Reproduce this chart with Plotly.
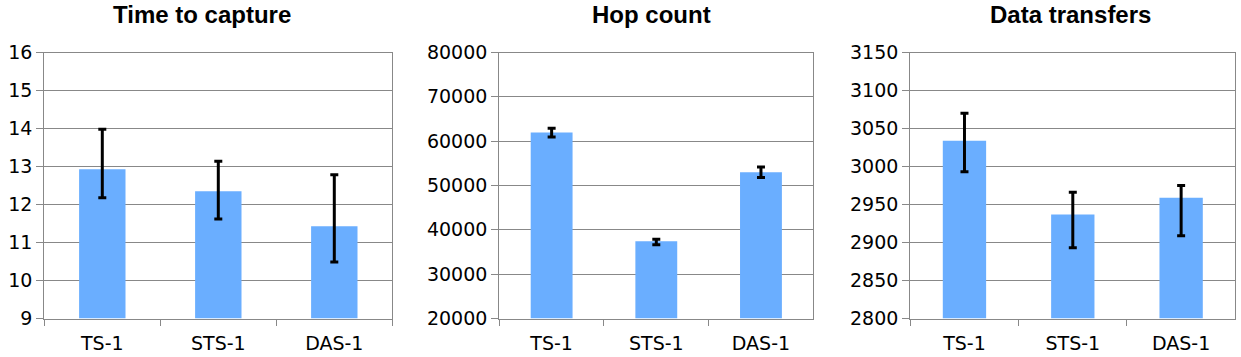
import plotly.graph_objects as go

categories = ["TS-1", "STS-1", "DAS-1"]

# time to capture
ttc_values = [12.93, 12.35, 11.43]
ttc_err_plus = [1.05, 0.79, 1.35]
ttc_err_minus = [0.75, 0.73, 0.94]

# hop count
hop_values = [61950, 37450, 53000]
hop_err_plus = [950, 450, 1150]
hop_err_minus = [1000, 800, 1200]

# data transfers
dt_values = [3034, 2937, 2959]
dt_err_plus = [36, 29, 16]
dt_err_minus = [41, 44, 50]

titles = ["Time to capture", "Hop count", "Data transfers"]
y_ranges = [[9, 16], [20000, 80000], [2800, 3150]]
y_dticks = [1, 10000, 50]

W, H = 1241, 357
x_domains = [[44.3 / W, 392.3 / W], [499.3 / W, 813.3 / W], [910.3 / W, 1235.3 / W]]
y_domain = [(H - 318.5) / H, (H - 52.5) / H]
title_x = [202 / W, 651 / W, 1070 / W]

BAR = "#6aaeff"
GRID = "#888888"
TICK_FONT = "DejaVu Sans, sans-serif"
TITLE_FONT = "Liberation Sans, Arial, sans-serif"

fig = go.Figure()

series = [
    (ttc_values, ttc_err_plus, ttc_err_minus),
    (hop_values, hop_err_plus, hop_err_minus),
    (dt_values, dt_err_plus, dt_err_minus),
]

for i, (vals, ep, em) in enumerate(series):
    sfx = "" if i == 0 else str(i + 1)
    base = y_ranges[i][0]
    fig.add_trace(go.Bar(
        x=categories,
        y=[v - base for v in vals],
        base=base,
        marker=dict(color=BAR, line=dict(width=0)),
        error_y=dict(type="data", symmetric=False, array=ep, arrayminus=em,
                     color="black", thickness=3, width=4),
        xaxis="x" + sfx,
        yaxis="y" + sfx,
        showlegend=False,
        hoverinfo="x+y",
    ))

layout = dict(
    width=W,
    height=H,
    margin=dict(l=0, r=0, t=0, b=0, pad=0),
    paper_bgcolor="white",
    plot_bgcolor="white",
    bargap=0.6,
    font=dict(family=TICK_FONT, size=19, color="black"),
    annotations=[],
)

for i in range(3):
    sfx = "" if i == 0 else str(i + 1)
    layout["xaxis" + sfx] = dict(
        domain=x_domains[i],
        anchor="y" + sfx,
        type="category",
        automargin=False,
        showline=True, linecolor=GRID, linewidth=1.3, mirror=True,
        ticks="outside", tickson="boundaries", ticklen=6, tickcolor=GRID,
        showgrid=False,
        tickfont=dict(family=TICK_FONT, size=19),
        ticklabelstandoff=8,
    )
    layout["yaxis" + sfx] = dict(
        domain=y_domain,
        anchor="x" + sfx,
        automargin=False,
        range=y_ranges[i],
        dtick=y_dticks[i],
        tickformat="d",
        showline=True, linecolor=GRID, linewidth=1.3, mirror=True,
        showgrid=True, gridcolor=GRID, gridwidth=1.3,
        ticks="outside", ticklen=7, tickcolor=GRID,
        zeroline=False,
        tickfont=dict(family=TICK_FONT, size=19),
    )
    layout["annotations"].append(dict(
        text="<b>" + titles[i] + "</b>",
        x=title_x[i], y=1 - 15 / H,
        xref="paper", yref="paper",
        xanchor="center", yanchor="middle",
        showarrow=False,
        font=dict(family=TITLE_FONT, size=24, color="black"),
    ))

fig.update_layout(**layout)
# the page's default body margin shifts the figure by 8px; drop it
fig.write_html(
    "out.html",
    config={"displayModeBar": False},
    post_script="document.body.style.margin = '0';",
)
